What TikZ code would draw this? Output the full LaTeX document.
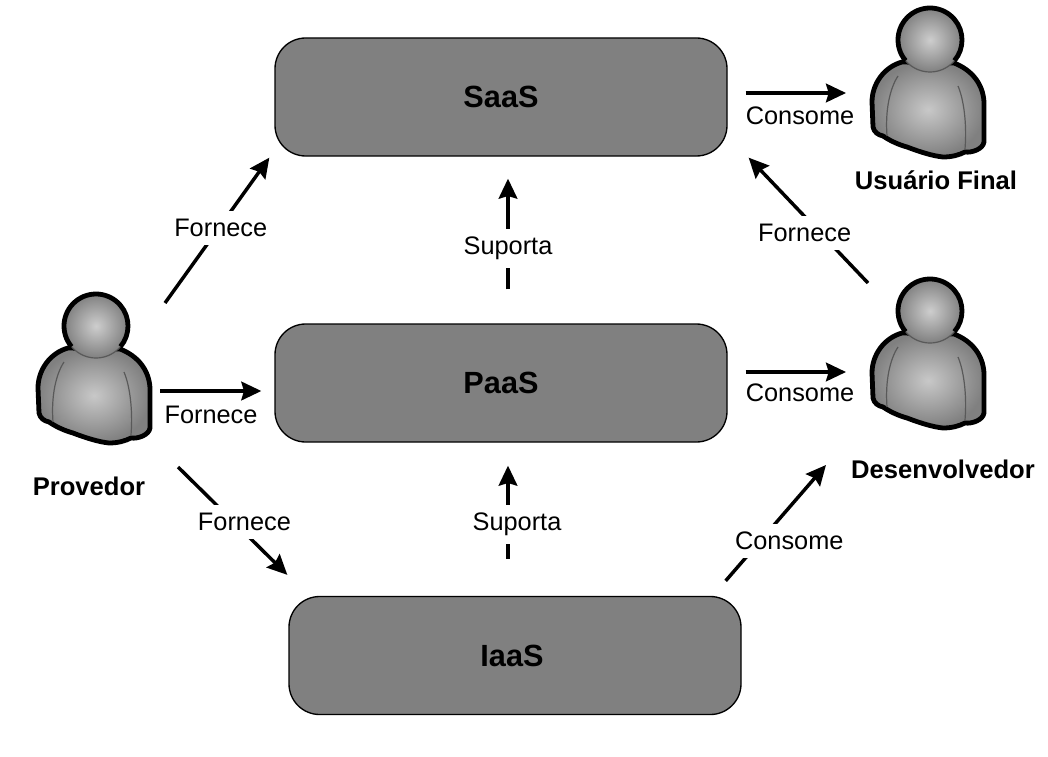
\documentclass[tikz,border=0pt]{standalone}
\usepackage{fontspec}
\usepackage{xcolor}
\setmainfont{Liberation Sans}
\usetikzlibrary{arrows.meta}

\definecolor{caixa}{HTML}{808080}
\definecolor{claro}{HTML}{C8C8C8}
\definecolor{escuro}{HTML}{808080}

\tikzset{
    camada/.style={draw=black, line width=1pt, fill=caixa, rounded corners=23pt, minimum width=339pt,
        minimum height=88.5pt, font=\fontsize{23}{26}\selectfont\bfseries},
    ator/.style={inner sep=0pt, minimum size=0pt},
    nomeator/.style={font=\fontsize{19.2}{22}\selectfont\bfseries},
    seta/.style={line width=2.6pt, -{Stealth[length=15pt, width=14pt, inset=2pt]}},
    rotulo/.style={inner sep=1.5pt, font=\fontsize{19}{22}\selectfont},
    corte/.style={rotulo, fill=white, inner ysep=6pt},
    person/.pic={
        \draw [line width=3.6pt, line join=round, shading=radial, inner color=claro, outer color=escuro]
            (-28, 22) .. controls (-46, 27) and (-58, 44) .. (-58, 62) -- (-57, 87)
            .. controls (-56, 92) and (-52, 95) .. (-47, 96)
            .. controls (-38, 102) and (-30, 105) .. (-23, 107)
            .. controls (-10, 112) and (3, 116) .. (13, 117)
            .. controls (22, 117) and (29, 115) .. (35, 112)
            .. controls (42, 113) and (53, 109) .. (54, 102) -- (54, 62)
            .. controls (53, 44) and (42, 30) .. (24, 23) -- cycle;
        \draw [line width=0.9pt, draw=black!65] (-32, 36) .. controls (-40, 48) and (-45, 70) .. (-43, 96);
        \draw [line width=0.9pt, draw=black!65] (28, 46) .. controls (34, 60) and (37, 85) .. (35, 109);
        \shade [inner color=claro!90!white, outer color=escuro] (0, 0) circle (32);
        \draw [line width=0.9pt, draw=black!65] (0, 0) circle (32);
        \draw [line width=3.6pt] (0, 0) ++(140:32) arc [start angle=140, end angle=400, radius=32];
    },
}

\begin{document}
\begin{tikzpicture}[x=0.75pt, y=-0.75pt]
    \useasboundingbox (0, 0) rectangle (1048, 756);

    % camadas
    \node [camada] (saas) at (501, 97) {SaaS};
    \node [camada] (paas) at (501, 383) {PaaS};
    \node [camada] (iaas) at (515, 655.5) {IaaS\kern4.5pt};

    % atores
    \foreach \nome/\px/\py in {usuario/930/40, desenvolvedor/930/311, provedor/96/326} {
        \node [ator] (\nome) at (\px, \py) {};
        \pic at (\nome) {person};
    }
    \node [nomeator] (nomeusuario) at (936, 180) {Usuário Final};
    \node [nomeator] (nomedesenv) at (943, 469) {Desenvolvedor};
    \node [nomeator] (nomeprov) at (89, 486) {Provedor};

    % setas do provedor
    \draw [seta] ([shift={(69, -23)}]provedor.center) -- ([shift={(-5, 1)}]saas.south west)
        node [corte, pos=0.515, xshift=1.5pt] (f1) {Fornece};
    \draw [seta] ([shift={(64, 65)}]provedor.center) -- ([shift={(-13, 8)}]paas.west);
    \node [rotulo] (f2) at (211, 415) {Fornece};
    \draw [seta] ([shift={(82, 141)}]provedor.center) -- ([shift={(-1, -21)}]iaas.north west)
        node [corte, pos=0.51, xshift=8pt] (f3) {Fornece};

    % suporte
    \draw [seta] ([shift={(7, -34)}]paas.north) -- ([shift={(7, 22)}]saas.south)
        node [corte, pos=0.37] (s1) {Suporta};
    \draw [seta] ([shift={(-7, -37)}]iaas.north) -- ([shift={(7, 23)}]paas.south)
        node [corte, pos=0.37, xshift=6.75pt] (s2) {Suporta};

    % consumo
    \draw [seta] ([shift={(18, -4)}]saas.east) -- ([shift={(-84, 53)}]usuario.center);
    \node [rotulo] (c1) at (800, 116) {Consome};
    \draw [seta] ([shift={(18, -11)}]paas.east) -- ([shift={(-84, 61)}]desenvolvedor.center);
    \node [rotulo] (c2) at (800, 393) {Consome};
    \draw [seta] ([shift={(-16, -15)}]iaas.north east) -- ([shift={(-104, 154)}]desenvolvedor.center)
        node [corte, pos=0.345, xshift=21.75pt] (c3) {Consome};
    \draw [seta] ([shift={(-62, -28)}]desenvolvedor.center) -- ([shift={(21, 1)}]saas.south east)
        node [corte, pos=0.397, xshift=-12pt] (f4) {Fornece};
\end{tikzpicture}
\end{document}
